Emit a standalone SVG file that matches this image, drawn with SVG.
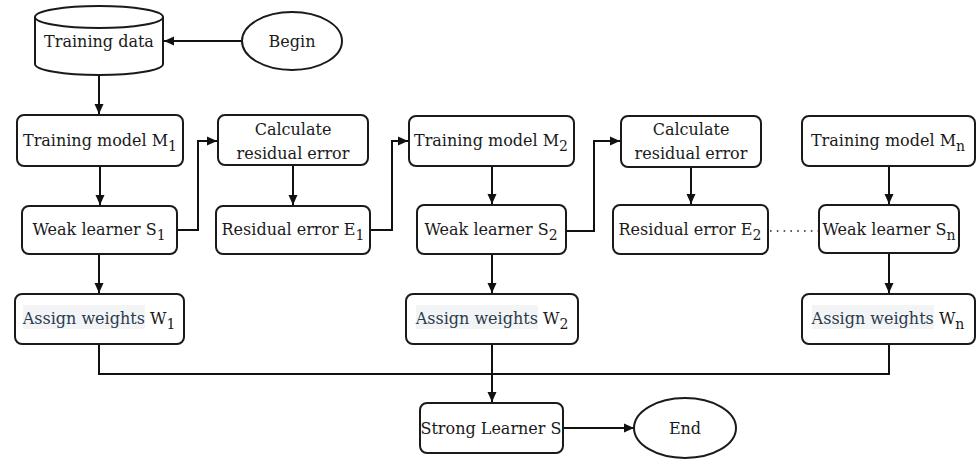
<svg xmlns="http://www.w3.org/2000/svg" width="976" height="459" viewBox="0 0 976 459">
<defs>
<marker id="ah" markerUnits="userSpaceOnUse" markerWidth="11" markerHeight="10" refX="10" refY="5" orient="auto">
<path d="M0,0.5 L10,5 L0,9.5 z" fill="#111"/>
</marker>
<style>
.box{fill:#fff;stroke:#1a1a1a;stroke-width:2}
.t{font-family:'DejaVu Serif','Liberation Serif',serif;font-size:16px;fill:#1a1a1a;text-anchor:middle}
.s{font-size:14px}
.aw{fill:#2b3b4e}
.hl{fill:#f3f4f5}
.c{fill:none;stroke:#111;stroke-width:2}
.ca{fill:none;stroke:#111;stroke-width:2;marker-end:url(#ah)}
.dot{fill:none;stroke:#222;stroke-width:1.6;stroke-dasharray:1.6 5.2}
</style>
</defs>
<rect width="976" height="459" fill="#fff"/>

<g id="connectors">
<path class="ca" d="M242,41 H164"/>
<path class="ca" d="M99,75 V114"/>
<path class="ca" d="M100,166 V205"/>
<path class="ca" d="M177,230 H198 V141 H217"/>
<path class="ca" d="M293,165 V205"/>
<path class="ca" d="M370,230 H392 V141 H408"/>
<path class="ca" d="M492,166 V204"/>
<path class="ca" d="M566,231 H594 V141 H620"/>
<path class="ca" d="M691,167 V204"/>
<path class="dot" d="M770,231 H818"/>
<path class="ca" d="M889,166 V204"/>
<path class="ca" d="M99,254 V293"/>
<path class="ca" d="M492,254 V293"/>
<path class="ca" d="M889,253 V293"/>
<path class="c" d="M99,344 V374 H889 V344"/>
<path class="ca" d="M492,344 V402"/>
<path class="ca" d="M563,428 H634"/>
</g>

<g id="training-data">
<path class="box" d="M35,17 V64 A64,11 0 0,0 163,64 V17"/>
<ellipse class="box" cx="99" cy="17" rx="64" ry="11"/>
<text class="t" x="99" y="47">Training data</text>
</g>

<g id="begin">
<ellipse class="box" cx="292" cy="41" rx="50" ry="29"/>
<text class="t" x="292" y="47">Begin</text>
</g>

<g id="model-1">
<rect class="box" x="17" y="115" width="166" height="51" rx="7"/>
<text class="t" x="100" y="146">Training model M<tspan class="s" dy="5">1</tspan></text>
</g>

<g id="calc-1">
<rect class="box" x="218" y="115" width="150" height="50" rx="7"/>
<text class="t" x="293" y="135">Calculate</text>
<text class="t" x="293" y="159">residual error</text>
</g>

<g id="model-2">
<rect class="box" x="409" y="116" width="165" height="50" rx="7"/>
<text class="t" x="491" y="146">Training model M<tspan class="s" dy="5">2</tspan></text>
</g>

<g id="calc-2">
<rect class="box" x="621" y="116" width="140" height="51" rx="7"/>
<text class="t" x="691" y="135">Calculate</text>
<text class="t" x="691" y="159">residual error</text>
</g>

<g id="model-n">
<rect class="box" x="802" y="116" width="173" height="50" rx="7"/>
<text class="t" x="888" y="146">Training model M<tspan class="s" dy="5">n</tspan></text>
</g>

<g id="weak-1">
<rect class="box" x="22" y="206" width="155" height="48" rx="7"/>
<text class="t" x="99" y="235">Weak learner S<tspan class="s" dy="5">1</tspan></text>
</g>

<g id="residual-1">
<rect class="box" x="216" y="206" width="154" height="48" rx="7"/>
<text class="t" x="293" y="235">Residual error E<tspan class="s" dy="5">1</tspan></text>
</g>

<g id="weak-2">
<rect class="box" x="417" y="205" width="149" height="49" rx="7"/>
<text class="t" x="491" y="235">Weak learner S<tspan class="s" dy="5">2</tspan></text>
</g>

<g id="residual-2">
<rect class="box" x="613" y="205" width="155" height="49" rx="7"/>
<text class="t" x="690" y="235">Residual error E<tspan class="s" dy="5">2</tspan></text>
</g>

<g id="weak-n">
<rect class="box" x="819" y="205" width="140" height="48" rx="7"/>
<text class="t" x="889" y="235">Weak learner S<tspan class="s" dy="5">n</tspan></text>
</g>

<g id="weights-1">
<rect class="box" x="15" y="294" width="169" height="50" rx="7"/>
<rect class="hl" x="23" y="305" width="122" height="24"/>
<text class="t" x="99" y="324"><tspan class="aw">Assign weights</tspan> W<tspan class="s" dy="5">1</tspan></text>
</g>

<g id="weights-2">
<rect class="box" x="406" y="294" width="172" height="50" rx="7"/>
<rect class="hl" x="416" y="305" width="122" height="24"/>
<text class="t" x="492" y="324"><tspan class="aw">Assign weights</tspan> W<tspan class="s" dy="5">2</tspan></text>
</g>

<g id="weights-n">
<rect class="box" x="802" y="294" width="173" height="50" rx="7"/>
<rect class="hl" x="812" y="305" width="122" height="24"/>
<text class="t" x="888" y="324"><tspan class="aw">Assign weights</tspan> W<tspan class="s" dy="5">n</tspan></text>
</g>

<g id="strong-learner">
<rect class="box" x="420" y="403" width="143" height="50" rx="7"/>
<text class="t" x="491" y="434">Strong Learner S</text>
</g>

<g id="end">
<ellipse class="box" cx="685" cy="428" rx="51" ry="30"/>
<text class="t" x="685" y="434">End</text>
</g>
</svg>
